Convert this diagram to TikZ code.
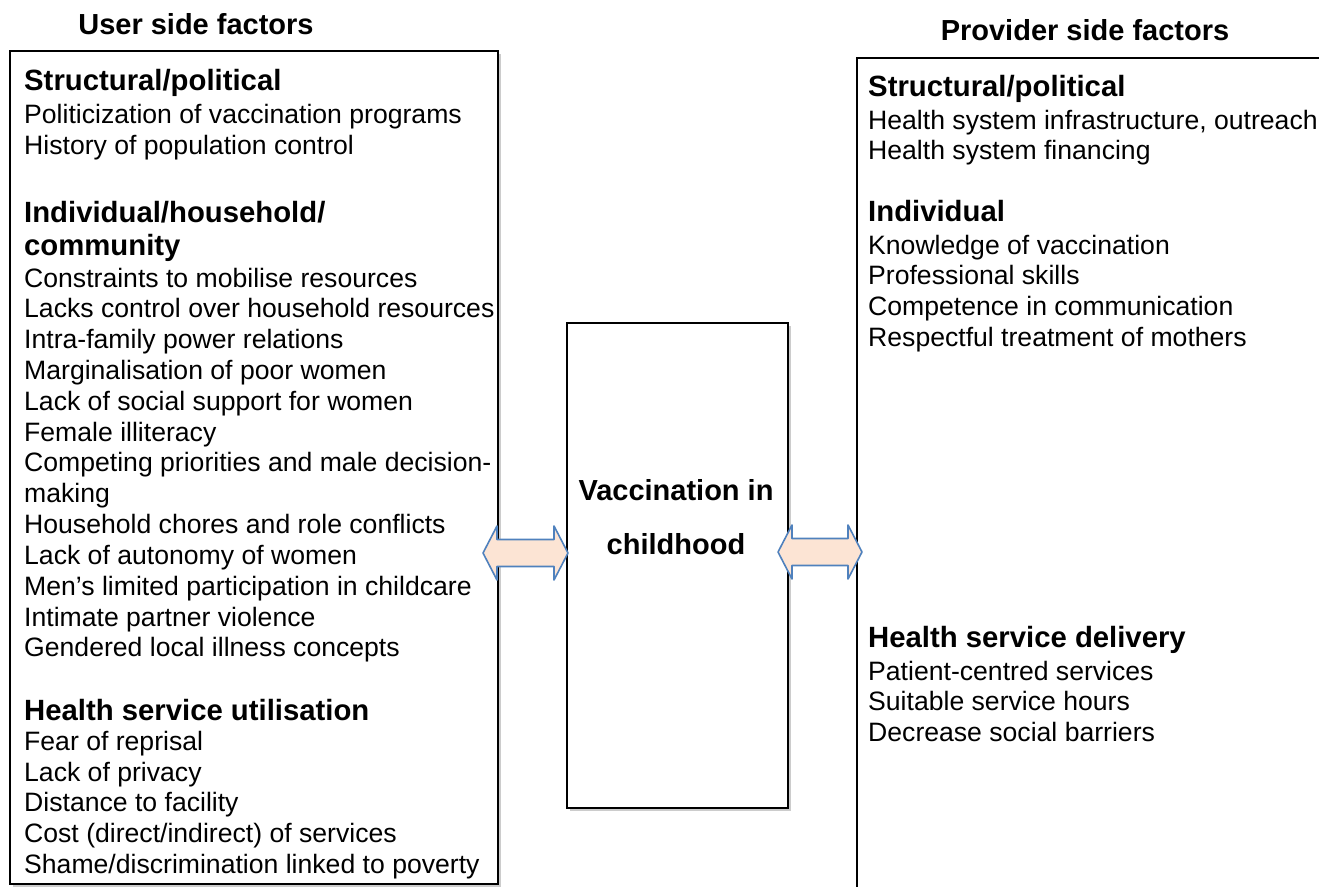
\documentclass[tikz,border=0pt]{standalone}
\usepackage{fontspec}
\setmainfont{Liberation Sans}
\usetikzlibrary{shadows}

\definecolor{arrowfill}{RGB}{252,228,212}
\definecolor{arrowline}{RGB}{79,129,189}

\tikzset{
  factorbox/.style={draw, line width=1.5pt, fill=white, inner sep=0pt, anchor=north west,
    drop shadow={shadow xshift=3pt, shadow yshift=-3.5pt, opacity=0.4}},
  blockarrow/.style={draw=arrowline, fill=arrowfill, line width=1.6pt, line join=round},
  item/.style={anchor=base west, inner sep=0pt, yshift=-2pt, font=\fontsize{26.6}{30.8}\selectfont},
  heading/.style={anchor=base west, inner sep=0pt, yshift=-2pt, font=\fontsize{29.3}{33}\selectfont\bfseries},
  title/.style={anchor=base, inner sep=0pt, yshift=-2pt, font=\fontsize{29}{33}\selectfont\bfseries}
}

\begin{document}
\begin{tikzpicture}[x=1pt,y=-1pt]
  \useasboundingbox (0,0) rectangle (1319,886);

  % boxes
  \node[factorbox, minimum width=488pt, minimum height=833pt] (userbox) at (9,50) {};
  \node[factorbox, minimum width=221pt, minimum height=485pt] (vaccbox) at (566,322) {};
  \node[factorbox, minimum width=520pt, minimum height=900pt] (provbox) at (856,57) {};

  % double arrows
  \draw[blockarrow] (483,553) -- (497,526) -- (497,539.5) -- (554,539.5) -- (554,526)
    -- (568,553) -- (554,580) -- (554,566.5) -- (497,566.5) -- (497,580) -- cycle;
  \draw[blockarrow] (778,552) -- (792,525) -- (792,538.5) -- (848,538.5) -- (848,525)
    -- (862,552) -- (848,579) -- (848,565.5) -- (792,565.5) -- (792,579) -- cycle;

  % titles
  \node[title] (usertitle) at (196,32.5) {User side factors};
  \node[title] (provtitle) at (1085,38.5) {Provider side factors};
  \node[title] (vacc1) at (676,498) {Vaccination in};
  \node[title] (vacc2) at (676,552) {childhood};

  % user side
  \node[heading] (uhead1) at (24,88) {Structural/political};
  \foreach \txt [count=\i from 0] in {Politicization of vaccination programs,
      History of population control}
    \node[item] (ua\i) at (24,121.7+\i*30.6) {\txt};

  \node[heading] (uhead2) at (24,220) {Individual/household/};
  \node[heading] (uhead2b) at (24,253) {community};
  \foreach \txt [count=\i from 0] in {Constraints to mobilise resources,
      Lacks control over household resources,
      Intra-family power relations,
      Marginalisation of poor women,
      Lack of social support for women,
      Female illiteracy,
      Competing priorities and male decision-,
      making,
      Household chores and role conflicts,
      Lack of autonomy of women,
      Men’s limited participation in childcare,
      Intimate partner violence,
      Gendered local illness concepts}
    \node[item] (ub\i) at (24,285+\i*30.83) {\txt};

  \node[heading] (uhead3) at (24,718) {Health service utilisation};
  \foreach \txt [count=\i from 0] in {Fear of reprisal,
      Lack of privacy,
      Distance to facility,
      Cost (direct/indirect) of services,
      Shame/discrimination linked to poverty}
    \node[item] (uc\i) at (24,748.3+\i*30.8) {\txt};

  % provider side
  \node[heading] (phead1) at (868,94) {Structural/political};
  \foreach \txt [count=\i from 0] in {{Health system infrastructure, outreach},
      Health system financing}
    \node[item] (pa\i) at (868,127.3+\i*30.6) {\txt};

  \node[heading] (phead2) at (868,219) {Individual};
  \foreach \txt [count=\i from 0] in {Knowledge of vaccination,
      Professional skills,
      Competence in communication,
      Respectful treatment of mothers}
    \node[item] (pb\i) at (868,252+\i*30.8) {\txt};

  \node[heading] (phead3) at (868,645) {Health service delivery};
  \foreach \txt [count=\i from 0] in {Patient-centred services,
      Suitable service hours,
      Decrease social barriers}
    \node[item] (pc\i) at (868,678+\i*30.8) {\txt};
\end{tikzpicture}
\end{document}
